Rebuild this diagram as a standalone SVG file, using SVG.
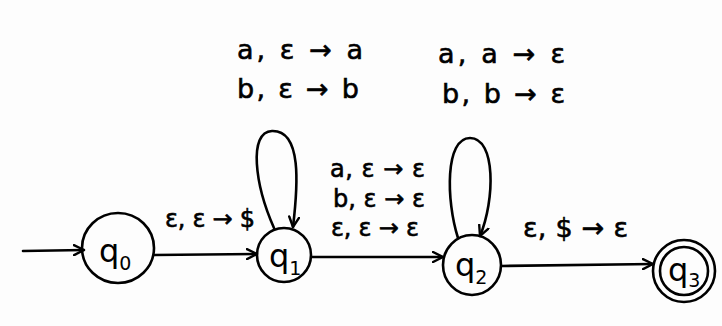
<svg xmlns="http://www.w3.org/2000/svg" width="722" height="326" viewBox="0 0 722 326">
<defs>
<style>
.s{fill:none;stroke:#000;stroke-width:2.6;stroke-linecap:round;stroke-linejoin:round}
.t{font-family:"DejaVu Sans","Liberation Sans",sans-serif;font-size:27px;fill:#000;stroke:#000;stroke-width:0.6}
.m{font-size:24px}
.q{font-family:"DejaVu Sans","Liberation Sans",sans-serif;font-size:32px;fill:#000}
.sub{font-size:19px}
</style>
<marker id="ah" viewBox="0 0 12 12" refX="11" refY="6" markerWidth="12" markerHeight="12" markerUnits="userSpaceOnUse" orient="auto">
<path d="M1,1 L11,6 L1,11" fill="none" stroke="#000" stroke-width="2.4" stroke-linecap="round"/>
</marker>
</defs>
<rect width="722" height="326" fill="#fdfdfd"/>
<g id="connectors">
<path class="s" d="M23,251 L84,250" marker-end="url(#ah)"/>
<path class="s" d="M154,255 L257,254" marker-end="url(#ah)"/>
<path class="s" d="M274,228 C255,185 248,132 272,131 C302,130 298,185 293,227" marker-end="url(#ah)"/>
<path class="s" d="M312,257 L443,257" marker-end="url(#ah)"/>
<path class="s" d="M458,238 C446,200 445,138 470,138 C496,138 495,200 480,236" marker-end="url(#ah)"/>
<path class="s" d="M502,266 L653,264" marker-end="url(#ah)"/>
</g>
<g id="labels">
<text class="t" x="237" y="59" textLength="126" lengthAdjust="spacing">a, ε → a</text>
<text class="t" x="237" y="98" textLength="122" lengthAdjust="spacing">b, ε → b</text>
<text class="t" x="438" y="63" textLength="127" lengthAdjust="spacing">a, a → ε</text>
<text class="t" x="442" y="103" textLength="123" lengthAdjust="spacing">b, b → ε</text>
<text class="t m" x="330" y="177" textLength="95" lengthAdjust="spacing">a, ε → ε</text>
<text class="t m" x="333" y="207" textLength="92" lengthAdjust="spacing">b, ε → ε</text>
<text class="t m" x="331" y="236" textLength="88" lengthAdjust="spacing">ε, ε → ε</text>
<text class="t m" x="165" y="227" textLength="90" lengthAdjust="spacing">ε, ε → $</text>
<text class="t" x="523" y="237" textLength="105" lengthAdjust="spacing">ε, $ → ε</text>
</g>
<g id="q0">
<ellipse class="s" cx="118" cy="248" rx="36" ry="35"/>
<text class="q" x="99" y="262">q<tspan class="sub" dy="8">0</tspan></text>
</g>
<g id="q1">
<circle class="s" cx="284" cy="255" r="27"/>
<text class="q" x="269" y="267">q<tspan class="sub" dy="8">1</tspan></text>
</g>
<g id="q2">
<ellipse class="s" cx="472" cy="265" rx="29" ry="30"/>
<text class="q" x="455" y="276">q<tspan class="sub" dy="8">2</tspan></text>
</g>
<g id="q3">
<circle class="s" cx="684" cy="271" r="31"/>
<circle class="s" cx="684" cy="271" r="24"/>
<text class="q" x="668" y="281">q<tspan class="sub" dy="6">3</tspan></text>
</g>
</svg>
